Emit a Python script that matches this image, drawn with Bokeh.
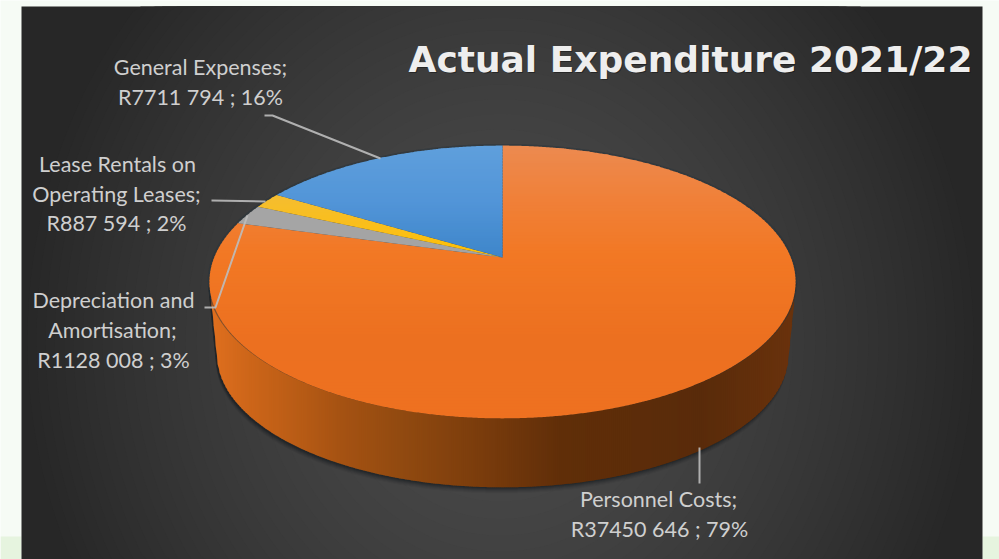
import numpy as np
from bokeh.core.properties import value
from bokeh.embed import file_html
from bokeh.models import Range1d
from bokeh.plotting import figure
from bokeh.resources import INLINE

# Expenditure by category, in rand, clockwise from twelve o'clock
categories = ["Personnel Costs", "Depreciation and Amortisation",
              "Lease Rentals on Operating Leases", "General Expenses"]
amounts = [37450646, 1128008, 887594, 7711794]

# Vertical colour ramps of each slice's top face: (pixel row, colour)
face_ramps = [
    [(145, "#ec8a50"), (200, "#f08038"), (255, "#f27824"), (340, "#ec7020"), (418, "#ee7120")],
    [(200, "#a6a6a6"), (260, "#a3a3a3")],
    [(190, "#f4bd35"), (260, "#ffc000")],
    [(145, "#5f9fdc"), (200, "#5295d8"), (260, "#3d85c9")],
]
# Horizontal colour ramp of the pie's rim
rim_ramp = [(205, "#e2701f"), (250, "#cc6519"), (300, "#b75b15"), (340, "#a55212"),
            (400, "#914a10"), (480, "#7a3c0c"), (560, "#602e09"), (700, "#592b0a"),
            (795, "#6a320c")]

label_text = ["General Expenses;", "R7711 794 ; 16%",
              "Lease Rentals on", "Operating Leases;", "R887 594 ; 2%",
              "Depreciation and", "Amortisation;", "R1128 008 ; 3%",
              "Personnel Costs;", "R37450 646 ; 79%"]
label_x = [200, 200, 117, 116, 116, 113, 112, 113, 658, 659]
label_y = [66, 96, 163, 193, 222, 299, 329, 359, 498, 528]

leader_xs = [[264, 272, 380], [211, 265], [204, 215, 247], [699, 699]]
leader_ys = [[115, 115, 158], [200, 201], [307, 307, 215], [447, 483]]

title_text = "Actual Expenditure 2021/22"

PAGE = "#f6fbf5"
BAND = "#e6f4df"
W, H = 999, 559
PANEL = (21, 982, 6, 559)

p = figure(width=W, height=H, output_backend="svg", toolbar_location=None,
           x_range=Range1d(0, W), y_range=Range1d(H, 0), min_border=0,
           background_fill_color=PAGE, border_fill_color=PAGE, outline_line_color=None)
p.axis.visible = False
p.grid.visible = False


def hex_rgb(c):
    return np.array([int(c[i:i + 2], 16) for i in (1, 3, 5)], dtype=float)


def ramp(stops, t):
    pos = [s[0] for s in stops]
    rgb = np.array([hex_rgb(s[1]) for s in stops])
    vals = [np.interp(t, pos, rgb[:, k]) for k in range(3)]
    return "#%02x%02x%02x" % tuple(int(round(v)) for v in vals)


# Perspective view of a unit disc: u to the right, v towards the viewer
K = -0.1795
A, B = 132.0, 288.3
CX, CY = 502.0, 257.0


def project(u, v, scale=1.0, cy=CY):
    d = 1 + K * v
    return CX + scale * B * u / d, cy + scale * A * v / d


def wedge_polygon(a0, a1):
    n = max(3, int((a1 - a0) / 0.005))
    th = np.linspace(a0, a1, n)
    x, y = project(np.sin(th), -np.cos(th))
    return np.r_[CX, x], np.r_[CY, y]


def clip_rows(x, y, y0, y1):
    """Clip a polygon to the rows y0..y1."""
    def cut(px, py, limit, keep_below):
        ox, oy = [], []
        m = len(px)
        for i in range(m):
            j = (i + 1) % m
            a = py[i] >= limit if keep_below else py[i] <= limit
            b = py[j] >= limit if keep_below else py[j] <= limit
            if a:
                ox.append(px[i]); oy.append(py[i])
            if a != b:
                t = (limit - py[i]) / (py[j] - py[i])
                ox.append(px[i] + t * (px[j] - px[i])); oy.append(limit)
        return ox, oy
    ax, ay = cut(list(x), list(y), y0, True)
    if not ax:
        return [], []
    return cut(ax, ay, y1, False)


p.quad(left=[0, PANEL[1]], right=[PANEL[0], W], top=[536, 536], bottom=[H, H],
       fill_color=BAND, line_color=None)

# Panel background: nested glow contours, one per grey level, darkest towards the corners
GLOW_DARK, GLOW_LIGHT = 0x27, 0x4b
p.quad(left=[PANEL[0]], right=[PANEL[1]], top=[PANEL[2]], bottom=[PANEL[3]],
       fill_color="#272727", line_color=None)
phi = np.linspace(0, 2 * np.pi, 241)
for level in range(GLOW_DARK + 1, GLOW_LIGHT + 1):
    d = ((GLOW_LIGHT - level) / (GLOW_LIGHT - GLOW_DARK)) ** (1 / 1.5)
    ex = np.clip(500 + 482 * d * np.cos(phi), PANEL[0], PANEL[1])
    ey = np.clip(340 + 532 * d * np.sin(phi), PANEL[2], PANEL[3])
    if d > 0:
        p.patch(ex, ey, fill_color="#%02x%02x%02x" % (level, level, level), line_color=None)

# Rim: the lower outline swept from the top face down to the base
th_all = np.linspace(0, 2 * np.pi, 1441)
grid_x = np.arange(205.0, 799.0, 2.0)
top_low = np.full(grid_x.shape, -1e9)
rim_low = np.full(grid_x.shape, -1e9)
for t in np.linspace(0, 1, 41):
    sx, sy = project(np.sin(th_all), -np.cos(th_all), scale=1 - 0.025 * t, cy=CY + 73 * t)
    i0, i1 = int(np.argmax(sx)), int(np.argmin(sx))  # front arc, rightmost to leftmost
    ax, ay = sx[i0:i1 + 1][::-1], sy[i0:i1 + 1][::-1]
    yy = np.interp(grid_x, ax, ay, left=-1e9, right=-1e9)
    rim_low = np.maximum(rim_low, yy)
    if t == 0:
        top_low = yy.copy()

valid = rim_low > 0
rx, rb = grid_x[valid], rim_low[valid]
rt = np.where(top_low[valid] > 0, top_low[valid] - 2, rb)

# Soft shadow below the rim
for off, alpha in [(6, 0.05), (5, 0.07), (4, 0.09), (3, 0.12), (2, 0.16), (1, 0.2)]:
    p.patch(np.r_[rx - 1, rx[::-1] + 1], np.r_[rb + off, rt[::-1]],
            fill_color="#0c1418", fill_alpha=alpha, line_color=None)

rim_xs, rim_ys, rim_col = [], [], []
for i in range(len(rx) - 1):
    x0, x1 = rx[i], min(rx[i + 1] + 0.6, rx[-1])
    rim_xs.append([x0, x1, x1, x0])
    rim_ys.append([rt[i], rt[i + 1], rb[i + 1], rb[i]])
    rim_col.append(ramp(rim_ramp, x0))
p.patches(rim_xs, rim_ys, fill_color=rim_col, line_color=None)

# Faint bluish edge behind the far side of the top face
edge_x, edge_y = project(np.sin(th_all), -np.cos(th_all), scale=1.006)
p.patch(edge_x, edge_y - 1, fill_color="#27343c", fill_alpha=0.5, line_color=None)

# Top face: slice angles come straight from the amounts, each slice shaded in thin rows
total = sum(amounts)
edges = 2 * np.pi * np.r_[0, np.cumsum(amounts)] / total
for k in range(len(amounts)):
    wx, wy = wedge_polygon(edges[k], edges[k + 1])
    xs, ys, cols = [], [], []
    for row in np.arange(np.floor(wy.min()), np.ceil(wy.max()), 3.0):
        cx_, cy_ = clip_rows(wx, wy, row, row + 3.6)
        if len(cx_) >= 3:
            xs.append(cx_); ys.append(cy_); cols.append(ramp(face_ramps[k], row + 1.5))
    p.patches(xs, ys, fill_color=cols, line_color=None)

# Leader lines and labels
p.multi_line(leader_xs, leader_ys, line_color="#bdbdbd", line_width=2, line_alpha=0.9)
p.text(x=label_x, y=label_y, text=label_text, text_font=value("Lato"),
       text_font_size="21.5px", text_color="#cfcfcf", text_align="center",
       text_baseline="middle")

# Title with a small drop shadow
p.text(x=[691], y=[60], text=[title_text], text_font=value("DejaVu Sans"),
       text_font_size="36px", text_font_style="bold", text_color="#111111", text_alpha=0.5,
       text_align="center", text_baseline="middle")
p.text(x=[690], y=[58.5], text=[title_text], text_font=value("DejaVu Sans"),
       text_font_size="36px", text_font_style="bold", text_color="#eeeeee",
       text_align="center", text_baseline="middle")

open("out.html", "w").write(file_html(p, INLINE))
